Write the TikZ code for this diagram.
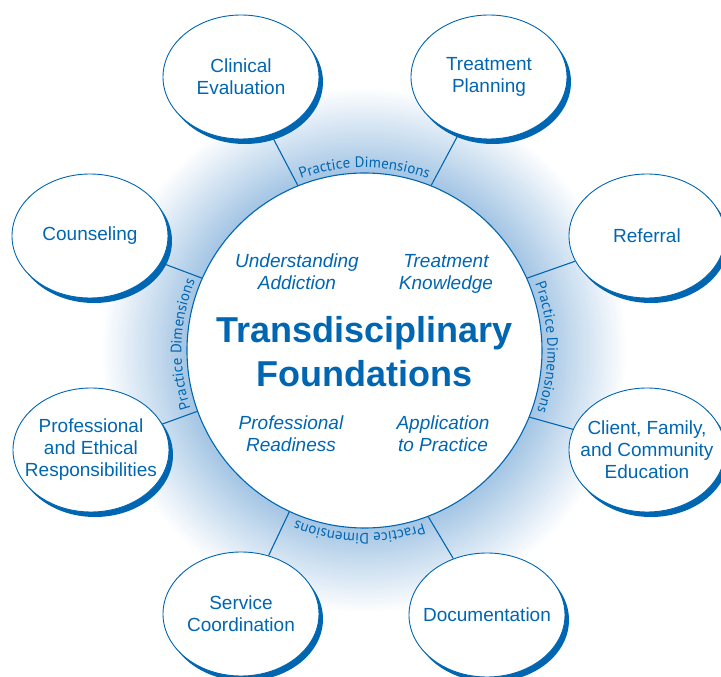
\documentclass[tikz,border=0pt]{standalone}
\usepackage{fontspec}
\setmainfont{Liberation Sans}
\newfontfamily\dimfamily{PT Sans}
\usepackage{tikz}
\usetikzlibrary{shapes.geometric,shadows,decorations.text}
\definecolor{mainblue}{RGB}{0,102,178}
\definecolor{glowblue}{RGB}{163,197,228}
\tikzset
{
	hub/.style = {circle, draw=mainblue, fill=white, line width=1.1pt, minimum size=355pt, inner sep=0pt},
	bubble/.style = {ellipse, draw=mainblue, fill=white, line width=0.9pt, minimum width=156pt, minimum height=124pt, inner sep=0pt, drop shadow={shadow xshift=4pt, shadow yshift=-5pt, fill=mainblue, opacity=1}},
	bubbletext/.style = {align=center, text=mainblue, font=\fontsize{19}{22}\selectfont},
	facet/.style = {align=center, text=mainblue, font=\fontsize{19}{22}\selectfont\itshape},
	title/.style = {align=center, text=mainblue, font=\fontsize{36}{44}\selectfont\bfseries},
	spoke/.style = {draw=mainblue, line width=1.1pt},
	dimtext/.style = {decorate, decoration={text along path, text align=center, text={|\dimfamily\fontsize{15}{15}\selectfont\color{mainblue}|Practice Dimensions}}}
}

\begin{document}
\begin{tikzpicture}[x=1pt, y=1pt]
\useasboundingbox (-364.5,-326.5) rectangle (356.5,350.5);
% glow behind the ring
\foreach \r [evaluate=\r as \p using {100*(264-\r)/86}] in {264,262,...,178}
	\fill[glowblue!\p!white] (0,0) circle[radius=\r];

% centre
\node[hub] (hub) at (0,0) {};
\node[title] (found) at (0,-1) {Transdisciplinary\\Foundations};
\node[facet] (underst) at (-67.5,78.5) {Understanding\\Addiction};
\node[facet] (knowl) at (81.5,76.5) {Treatment\\Knowledge};
\node[facet] (ready) at (-73.5,-83.5) {Professional\\Readiness};
\node[facet] (apply) at (78.5,-83.5) {Application\\to Practice};

% practice dimensions ring
\path[dimtext] (130:183) arc[start angle=130, end angle=50, radius=183];
\path[dimtext] (41:183) arc[start angle=41, end angle=-39, radius=183];
\path[dimtext] (308.4:183) arc[start angle=308.4, end angle=228.4, radius=183];
\path[dimtext] (218:183) arc[start angle=218, end angle=138, radius=183];

% outer bubbles
\node[bubble] (clin) at (-123.5,273.5) {};
\node[bubble] (plan) at (124.5,273.5) {};
\node[bubble] (couns) at (-274.5,114.5) {};
\node[bubble] (refer) at (282.5,114.5) {};
\node[bubble] (prof) at (-273.5,-99.5) {};
\node[bubble] (educ) at (282.5,-99.5) {};
\node[bubble] (serv) at (-123.5,-263.5) {};
\node[bubble] (docu) at (122.5,-264.5) {};

\node[bubbletext] (clintxt) at (clin) {Clinical\\Evaluation};
\node[bubbletext] (plantxt) at (plan) {Treatment\\Planning};
\node[bubbletext] (counstxt) at (couns) {Counseling};
\node[bubbletext] (refertxt) at (refer) {Referral};
\node[bubbletext] (proftxt) at (prof) {Professional\\and Ethical\\Responsibilities};
\node[bubbletext] (eductxt) at (educ) {Client, Family,\\and Community\\Education};
\node[bubbletext] (servtxt) at (serv) {Service\\Coordination};
\node[bubbletext] (docutxt) at (docu) {Documentation};

% spokes
\draw[spoke] (hub.112) -- (clin);
\draw[spoke] (hub.68) -- (plan);
\draw[spoke] (hub.156) -- (couns);
\draw[spoke] (hub.24) -- (refer);
\draw[spoke] (hub.200) -- (prof);
\draw[spoke] (hub.-22) -- (educ);
\draw[spoke] (hub.245) -- (serv);
\draw[spoke] (hub.291) -- (docu);
\end{tikzpicture}
\end{document}
